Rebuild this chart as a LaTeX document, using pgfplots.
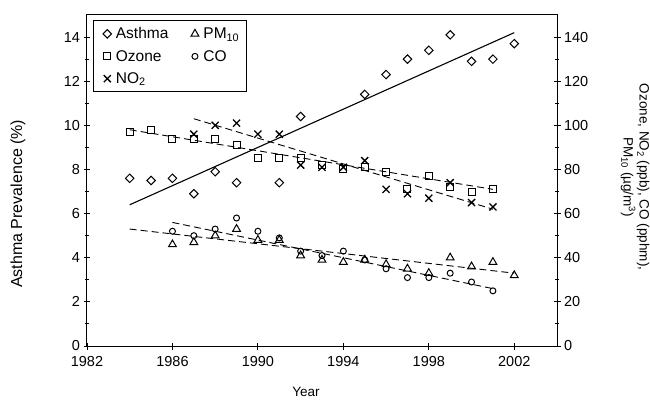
\documentclass[border=0pt]{standalone}
\usepackage{pgfplots}
\pgfplotsset{compat=1.18}
\usepackage{fontspec}
\setmainfont{Liberation Sans}

\pgfplotsset{
  base/.style={
    scale only axis, width=470pt, height=331pt,
    xmin=1982, xmax=2004,
    tick align=center,
    major tick length=7pt, minor tick length=4pt,
    every tick/.style={black, line width=0.9pt},
    axis line style={line width=1pt},
    tick label style={font=\fontsize{14.5}{16}\selectfont},
    /pgf/number format/assume math mode=true,
    label style={font=\fontsize{13.5}{16}\selectfont},
  },
  mk/.style={only marks, black, line width=1pt, mark options={solid}},
}

\begin{document}
\begin{tikzpicture}
% left axis: asthma prevalence
\begin{axis}[base,
  ymin=0, ymax=15,
  xtick={1982,1986,...,2002}, minor x tick num=3,
  ytick={0,2,...,14}, minor y tick num=1,
  xtick pos=bottom, ytick pos=left,
  x tick label style={/pgf/number format/1000 sep={}, yshift=-3pt},
  xlabel={Year}, ylabel={Asthma Prevalence (\%)},
  xlabel style={at={(axis description cs:0.466,-0.139)}, anchor=center},
  ylabel style={at={(axis description cs:-0.147,0.43)}, anchor=center,
    font=\fontsize{16}{18}\selectfont},
]
\addplot[mk, mark=square, mark size=3pt, mark options={rotate=45}] coordinates {
  (1984,7.6) (1985,7.5) (1986,7.6) (1987,6.9) (1988,7.9) (1989,7.4)
  (1991,7.4) (1992,10.4) (1995,11.4) (1996,12.3) (1997,13.0) (1998,13.4)
  (1999,14.1) (2000,12.9) (2001,13.0) (2002,13.7)
};
\addplot[black, line width=1.1pt] coordinates {(1984,6.4) (2002,14.2)};
\end{axis}

% right axis: pollutants
\begin{axis}[base,
  ymin=0, ymax=150,
  axis x line=none, axis y line*=right,
  ytick={0,20,...,140}, minor y tick num=1,
  ylabel={Ozone, NO\textsubscript{2} (ppb), CO (pphm),\\PM\textsubscript{10} (µg/m\textsuperscript{3})},
  ylabel style={at={(axis description cs:1.166,0.51)}, anchor=center, rotate=180, align=center},
  legend columns=2,
  legend cell align=left,
  legend style={at={(0.013,0.985)}, anchor=north west, draw=black, line width=1pt,
    font=\fontsize{15.5}{17}\selectfont, inner xsep=5pt, inner ysep=5pt,
    /tikz/every even column/.append style={column sep=16pt},
    row sep=6pt},
  legend image code/.code={\draw[#1, only marks] plot coordinates {(8pt,0pt)};
    \path (0pt,0pt) (14pt,0pt);},
]
\addlegendimage{mk, mark=square, mark size=3pt, mark options={rotate=45}}
\addlegendentry{Asthma}

\addplot[mk, mark=triangle, mark size=4.5pt] coordinates {
  (1986,46) (1987,47) (1988,50) (1989,53) (1990,48) (1991,48) (1992,41)
  (1993,39) (1994,38) (1995,39) (1996,37) (1997,35) (1998,33) (1999,40)
  (2000,36) (2001,38) (2002,32)
};
\addlegendentry{PM\textsubscript{10}}

\addplot[mk, mark=square, mark size=3.5pt] coordinates {
  (1984,97) (1985,98) (1986,94) (1987,94) (1988,94) (1989,91) (1990,85)
  (1991,85) (1992,85) (1993,82) (1994,80) (1995,81) (1996,79) (1997,71)
  (1998,77) (1999,72) (2000,70) (2001,71)
};
\addlegendentry{Ozone}

\addplot[mk, mark=o, mark size=3pt] coordinates {
  (1986,52) (1987,50) (1988,53) (1989,58) (1990,52) (1991,49) (1992,43)
  (1993,41) (1994,43) (1995,39) (1996,35) (1997,31) (1998,31) (1999,33)
  (2000,29) (2001,25)
};
\addlegendentry{CO}

\addplot[mk, mark=x, mark size=5pt, line width=1.3pt] coordinates {
  (1987,96) (1988,100) (1989,101) (1990,96) (1991,96) (1992,82) (1993,81)
  (1994,81) (1995,84) (1996,71) (1997,69) (1998,67) (1999,74) (2000,65)
  (2001,63)
};
\addlegendentry{NO\textsubscript{2}}

% fitted trend lines
\addplot[black, line width=0.9pt, dash pattern=on 7pt off 4pt, forget plot] coordinates {(1984,98) (2001,71)};
\addplot[black, line width=0.9pt, dash pattern=on 7pt off 4pt, forget plot] coordinates {(1987,103) (2001,62)};
\addplot[black, line width=0.9pt, dash pattern=on 7pt off 4pt, forget plot] coordinates {(1984,53) (2002,33)};
\addplot[black, line width=0.9pt, dash pattern=on 7pt off 4pt, forget plot] coordinates {(1986,56) (2001,26)};
\end{axis}
\pgfresetboundingbox
\path[use as bounding box] (-87pt,-56pt) rectangle (563pt,346pt);
\end{tikzpicture}
\end{document}
